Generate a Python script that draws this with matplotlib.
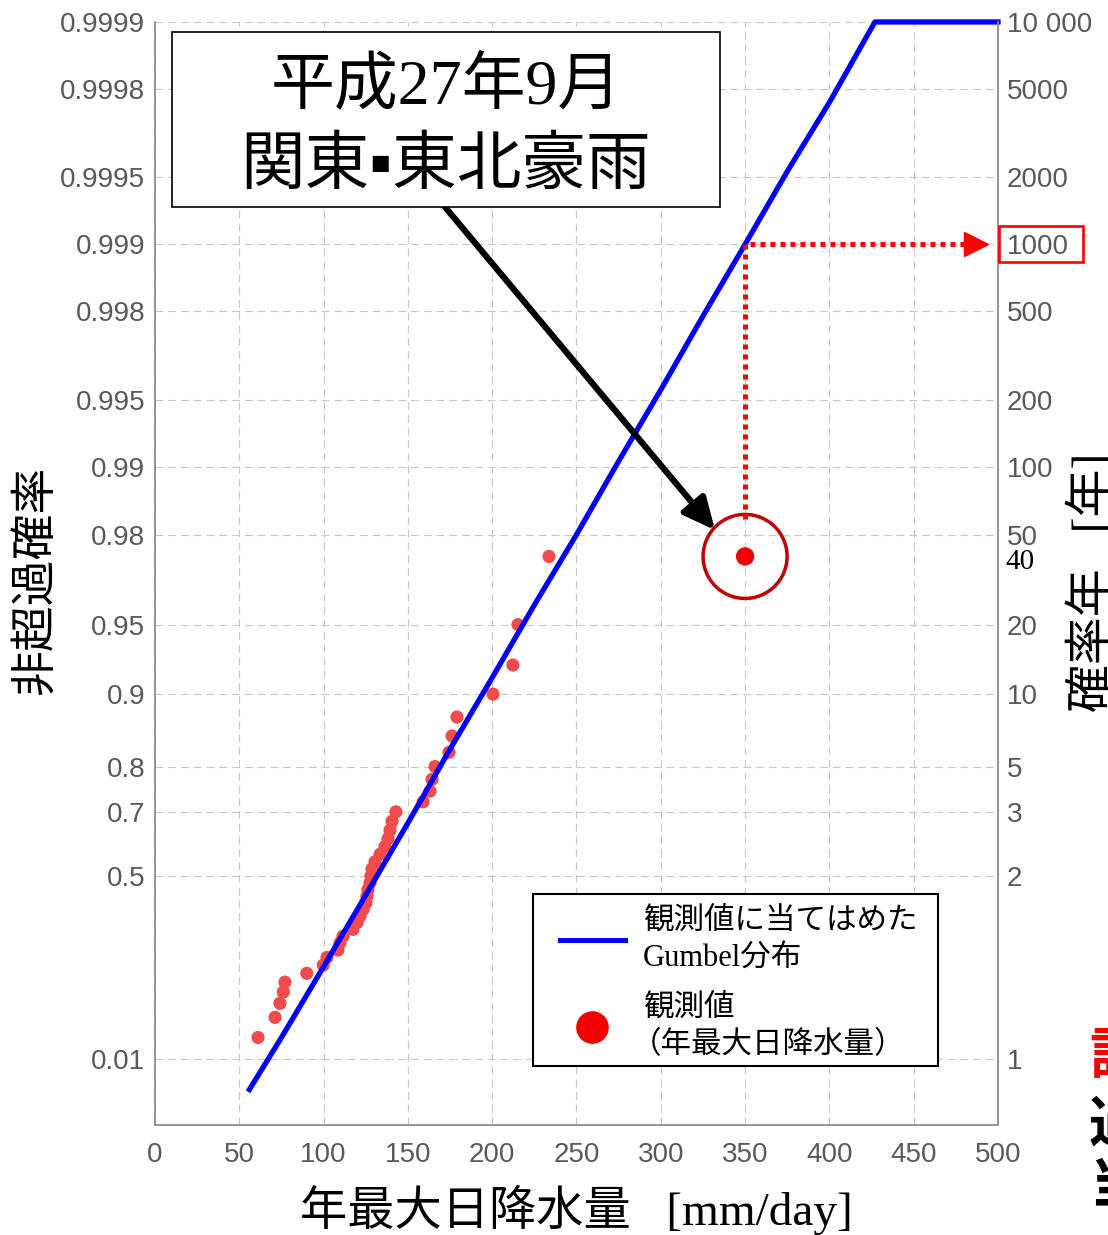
import numpy as np
import matplotlib.pyplot as plt
from matplotlib.patches import Rectangle
from matplotlib.lines import Line2D

plt.rcParams['font.family'] = ['Liberation Sans', 'DejaVu Sans']

JP = ['Noto Sans CJK JP', 'DejaVu Sans']
MIX = ['Liberation Serif', 'Noto Sans CJK JP', 'DejaVu Sans']

# annual maximum daily rainfall [mm/day], sorted ascending (39 years)
annual_max_rain = [61.1, 71.2, 74.1, 76.1, 77.1, 90.0, 99.8, 102.0, 108.5, 109.7,
                   111.5, 117.4, 119.8, 121.6, 123.4, 125.1, 125.7, 126.3, 127.5, 128.1,
                   128.7, 130.5, 133.5, 136.4, 138.2, 139.4, 140.6, 142.9, 159.0, 163.1,
                   164.3, 166.1, 174.4, 176.2, 179.1, 200.5, 212.3, 215.3, 233.7]

# fitted Gumbel distribution (rainfall, non-exceedance probability)
fit_rain = [56, 75, 100, 125, 150, 175, 200, 225, 250, 275, 300, 325, 350, 375, 400, 427, 500]
fit_prob = [0.0018, 0.025, 0.17, 0.43, 0.67, 0.83, 0.915, 0.959, 0.980, 0.9906,
            0.9955, 0.9979, 0.9990, 0.99953, 0.99977, 0.9999, 0.9999]

# September 2015 Kanto-Tohoku heavy rain
event_rain = 350
event_prob = 0.975
event_return_label = '40'
guide_prob = 0.999

prob_ticks = [0.01, 0.5, 0.7, 0.8, 0.9, 0.95, 0.98, 0.99, 0.995, 0.998,
              0.999, 0.9995, 0.9998, 0.9999]
prob_labels = ['0.01', '0.5', '0.7', '0.8', '0.9', '0.95', '0.98', '0.99', '0.995',
               '0.998', '0.999', '0.9995', '0.9998', '0.9999']
return_labels = ['1', '2', '3', '5', '10', '20', '50', '100', '200', '500',
                 '1000', '2000', '5000', '10 000']
rain_ticks = [0, 50, 100, 150, 200, 250, 300, 350, 400, 450, 500]


def gumbel_fwd(p):
    p = np.clip(np.asarray(p, dtype=float), 1e-12, 1 - 1e-12)
    return -np.log(-np.log(p))


def gumbel_inv(y):
    return np.exp(-np.exp(-np.asarray(y, dtype=float)))


fig = plt.figure(figsize=(11.08, 12.35), dpi=100)
ax = fig.add_axes([0.1399, 0.0891, 0.7608, 0.8931])
ax.set_yscale('function', functions=(gumbel_fwd, gumbel_inv))
ax.set_xlim(0, 500)
ax.set_ylim(1.09e-4, 0.9999)

tick_color = '#595959'
spine_color = '#8c8c8c'

ax.set_xticks(rain_ticks)
ax.set_yticks(prob_ticks)
ax.set_yticklabels(prob_labels)
ax.tick_params(axis='both', length=0, labelsize=20, labelcolor=tick_color)
ax.tick_params(axis='y', pad=7)
ax.tick_params(axis='x', pad=12)
ax.grid(True, color='#c8c8c8', ls=(0, (7, 4.5)), lw=0.8)
ax.set_axisbelow(True)
for side in ['top', 'right']:
    ax.spines[side].set_visible(False)
for side in ['left', 'bottom']:
    ax.spines[side].set_color(spine_color)
    ax.spines[side].set_linewidth(1.3)

# observed annual maxima with Weibull plotting positions
n = len(annual_max_rain)
plot_pos = np.arange(1, n + 1) / (n + 1)
ax.scatter(annual_max_rain, plot_pos, s=90, color='#f24b4b', edgecolors='none', zorder=3)

ax.plot(fit_rain, fit_prob, color='#0000ff', lw=3.8, zorder=4, clip_on=False)

# highlighted event and the guide to its return period
ax.scatter([event_rain], [event_prob], s=175, color='#f00000', edgecolors='none', zorder=5)
ax.scatter([event_rain], [event_prob], s=3660, facecolors='none', edgecolors='#c00000',
           linewidths=2.5, zorder=5)
ax.plot([event_rain, event_rain, 483], [0.983, guide_prob, guide_prob],
        color='#ff0000', lw=3.6, ls=(0, (1, 1)), dash_capstyle='butt', zorder=5)
ax.plot([487], [guide_prob], marker='>', ms=17, color='#ff0000', zorder=5)

ax.set_xlabel('年最大日降水量   [mm/day]', fontsize=34, family=MIX, va='center')
ax.xaxis.set_label_coords(0.5, -0.0771)
ax.set_ylabel('非超過確率', fontsize=33, family=JP, va='center')
ax.yaxis.set_label_coords(-0.1423, 0.494)

# return period axis on the right
ax2 = ax.twinx()
ax2.set_yscale('function', functions=(gumbel_fwd, gumbel_inv))
ax2.set_ylim(ax.get_ylim())
ax2.set_yticks(prob_ticks)
ax2.set_yticklabels(return_labels)
ax2.tick_params(axis='y', length=0, labelsize=20, labelcolor=tick_color, pad=6.5)
for side in ['top', 'left', 'bottom']:
    ax2.spines[side].set_visible(False)
ax2.spines['right'].set_color(spine_color)
ax2.spines['right'].set_linewidth(1.3)
ax2.set_ylabel('確率年   [年]', fontsize=34.5, family=MIX, va='center', rotation=90)
ax2.yaxis.set_label_coords(1.1115, 0.4923)
ax2.annotate(event_return_label, xy=(1, event_prob), xycoords=('axes fraction', 'data'),
             xytext=(7, -6), textcoords='offset pixels', ha='left', va='center',
             fontsize=21, family='Liberation Serif', color='black')

# red frame around the 1000-year label
fig.add_artist(Rectangle((999 / 1108, 1 - 262 / 1235), 84 / 1108, 36 / 1235,
                         transform=fig.transFigure, fill=False, ec='#ff0000', lw=1.9))

# title box
fig.add_artist(Rectangle((172 / 1108, 1 - 207 / 1235), 548 / 1108, 175 / 1235,
                         transform=fig.transFigure, fc='white', ec='black', lw=1.2, zorder=6))
fig.text(446 / 1108, 1 - 88 / 1235, '平成27年9月', fontsize=46, family=MIX,
         ha='center', va='center', zorder=7)
fig.text(446 / 1108, 1 - 168 / 1235, '関東▪東北豪雨', fontsize=46.5, family=MIX,
         ha='center', va='center', zorder=7)
fig.add_artist(plt.Annotation('', xy=(715 / 1108, 1 - 530 / 1235), xycoords='figure fraction',
                              xytext=(445 / 1108, 1 - 207 / 1235), textcoords='figure fraction',
                              arrowprops=dict(arrowstyle='-|>,head_length=0.95,head_width=0.45',
                                              mutation_scale=20, lw=4.5, color='black',
                                              shrinkA=0, shrinkB=0)))

# legend drawn as a framed block
fig.add_artist(Rectangle((533 / 1108, 1 - 1066 / 1235), 405 / 1108, 172 / 1235,
                         transform=fig.transFigure, fc='white', ec='black', lw=1.5, zorder=6))
fig.add_artist(Line2D([560 / 1108, 625 / 1108], [1 - 940 / 1235, 1 - 940 / 1235],
                      transform=fig.transFigure, color='#0000ff', lw=3.6, zorder=7))
fig.add_artist(Line2D([592 / 1108], [1 - 1027 / 1235], transform=fig.transFigure,
                      marker='o', ms=23.5, color='#f00000', mec='none', ls='none', zorder=7))
legend_lines = [('観測値に当てはめた', 643, 921), ('Gumbel分布', 643, 959),
                ('観測値', 643, 1008), ('（年最大日降水量）', 631, 1046)]
for text, xpix, ypix in legend_lines:
    fig.text(xpix / 1108, 1 - ypix / 1235, text, fontsize=22, family=MIX,
             ha='left', va='center', zorder=7)

# text running in from the neighbouring panel
for ch, ypix, col in [('計', 1057, '#ff0000'), ('過', 1125, 'black'), ('当', 1187, 'black')]:
    fig.text(1089 / 1108, 1 - ypix / 1235, ch, fontsize=40, family=JP, weight='bold',
             color=col, ha='left', va='center')

fig.savefig('out.png', dpi=100)
